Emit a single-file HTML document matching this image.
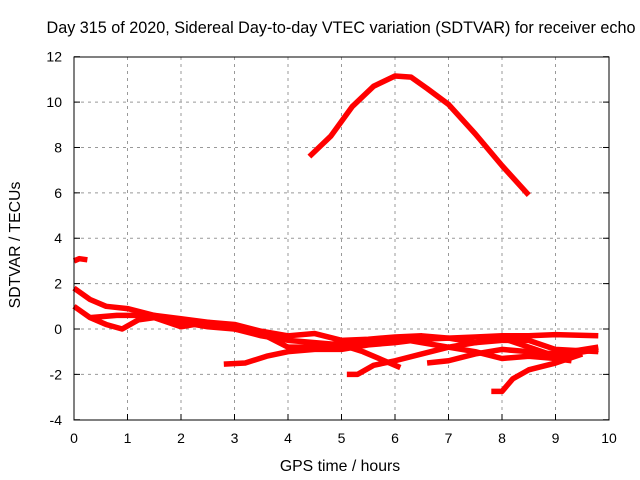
<!DOCTYPE html>
<html><head><meta charset="utf-8"><style>
body{margin:0;background:#fff;}
svg{display:block;font-family:"Liberation Sans",sans-serif;font-size:14px;}
</style></head><body>
<svg id="c" width="640" height="480">
<text x="341" y="33" text-anchor="middle" font-size="16.2">Day 315 of 2020, Sidereal Day-to-day VTEC variation (SDTVAR) for receiver echo</text>
<text x="340" y="471" text-anchor="middle" font-size="15.8">GPS time / hours</text>
<text transform="translate(20,245) rotate(-90)" text-anchor="middle" font-size="15.8">SDTVAR / TECUs</text>
<g id="grid"></g><g id="series"></g>
<rect x="74" y="57" width="535" height="363" fill="none" stroke="#000" stroke-width="1"/>
</svg>
<script>
const xTicks=[0,1,2,3,4,5,6,7,8,9,10];
const yTicks=[-4,-2,0,2,4,6,8,10,12];
const seriesA=[[0,3.0],[0.1,3.1],[0.25,3.05]];
const seriesB=[[4.4,7.6],[4.8,8.5],[5.2,9.8],[5.6,10.7],[6.0,11.15],[6.3,11.1],[6.6,10.6],[7.0,9.9],[7.5,8.6],[8.0,7.2],[8.5,5.9]];
const seriesC=[[0,1.8],[0.3,1.3],[0.6,1.0],[1.0,0.9],[1.5,0.6],[2,0.45],[2.5,0.3],[3,0.2],[3.5,-0.1],[4,-0.3],[4.5,-0.2],[5,-0.5],[5.5,-0.45],[6,-0.35],[6.5,-0.3],[7,-0.4],[7.5,-0.35],[8,-0.3],[8.5,-0.3],[9,-0.25],[9.8,-0.3]];
const seriesD=[[0,1.0],[0.3,0.5],[0.6,0.2],[0.9,0.0],[1.2,0.4],[1.5,0.5],[2,0.1],[2.5,0.3],[3,0.0],[3.5,-0.3],[4,-0.5],[4.5,-0.6],[5,-0.7],[5.4,-1.0],[5.8,-1.4],[6.1,-1.7]];
const seriesE=[[0.3,0.5],[0.8,0.6],[1.5,0.6],[2,0.3],[2.5,0.1],[3,0.0],[3.5,-0.2],[4,-0.8],[4.5,-0.8],[5,-0.6],[5.5,-0.6],[6,-0.4],[6.5,-0.6],[7,-0.8],[7.5,-1.0],[8,-1.3],[8.5,-1.2],[9,-1.3],[9.3,-1.4]];
const seriesF=[[2.8,-1.55],[3.2,-1.5],[3.6,-1.2],[4,-1.0],[4.5,-0.9],[5,-0.9],[5.5,-0.7],[6,-0.6],[6.5,-0.45],[7,-0.4],[7.5,-0.6],[8,-0.5],[8.5,-0.5],[9,-0.9],[9.8,-1.0]];
const seriesG=[[5.1,-2.0],[5.3,-2.0],[5.6,-1.6],[6,-1.4],[6.5,-1.1],[7,-0.8],[7.5,-0.6],[8,-0.4],[8.5,-0.8],[9,-1.2],[9.8,-0.9]];
const seriesH=[[6.6,-1.5],[7,-1.4],[7.5,-1.1],[8,-0.9],[8.5,-1.0],[9,-1.1],[9.8,-0.8]];
const seriesI=[[7.8,-2.75],[8.0,-2.75],[8.2,-2.2],[8.5,-1.8],[9,-1.5],[9.5,-1.1]];
const X=v=>74+v*53.5, Y=v=>329-v*22.69;
const ns="http://www.w3.org/2000/svg";
const g=document.getElementById('grid'), s=document.getElementById('series');
function mk(tag,attrs,parent){const e=document.createElementNS(ns,tag);for(const k in attrs)e.setAttribute(k,attrs[k]);parent.appendChild(e);return e;}
xTicks.forEach(t=>{
  if(t>0&&t<10){const l=mk('line',{x1:X(t),x2:X(t),y1:57,y2:420,stroke:'#999','stroke-dasharray':'3,4'},g);
  
  }
  const tk=mk('line',{x1:X(t),x2:X(t),y1:420,y2:414,stroke:'#000'},g);
  
  
  const tx=mk('text',{x:X(t),y:443,'text-anchor':'middle'},g);tx.textContent=t;
  
  
});
yTicks.forEach(t=>{
  if(t>-4&&t<12){const l=mk('line',{x1:74,x2:609,y1:Y(t),y2:Y(t),stroke:'#999','stroke-dasharray':'3,4'},g);
  
  }
  const tk=mk('line',{x1:74,x2:80,y1:Y(t),y2:Y(t),stroke:'#000'},g);
  
  
  const tk2=mk('line',{x1:603,x2:609,y1:Y(t),y2:Y(t),stroke:'#000'},g);
  
  
  const tx=mk('text',{x:62,y:Y(t)+5,'text-anchor':'end'},g);tx.textContent=t;
  
  
});
[seriesA,seriesB,seriesC,seriesD,seriesE,seriesF,seriesG,seriesH,seriesI].forEach(d=>{
  const p=mk('polyline',{points:d.map(q=>X(q[0])+','+Y(q[1])).join(' '),fill:'none',stroke:'#f00','stroke-width':5.5,'stroke-linejoin':'round'},s);
  
  
});
</script>
</body></html>
